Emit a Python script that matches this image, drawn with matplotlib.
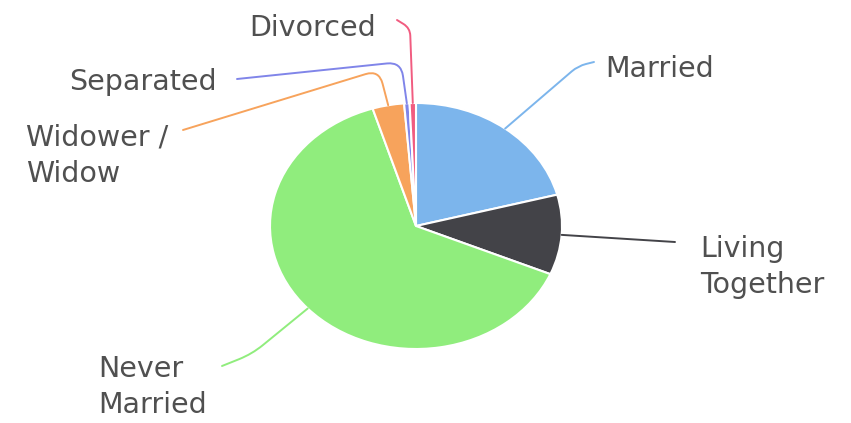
import textwrap
import numpy as np
import matplotlib
matplotlib.use("Agg")
import matplotlib.pyplot as plt
from matplotlib.path import Path
from matplotlib.patches import PathPatch

# data
categories = ["Married", "Living Together", "Never Married",
              "Widower / Widow", "Separated", "Divorced"]
values = [20.9, 10.5, 63.8, 3.5, 0.6, 0.7]
colors = ["#7cb5ec", "#434348", "#90ed7d", "#f7a35c", "#8085e9", "#f15c80"]

W, H = 851, 423
S = 1.187  # the reference is stretched horizontally

# label layout in reference pixels: x, y, ha, va
label_pos = {
    "Married": (605, 77, "left", "baseline"),
    "Living Together": (700, 267, "left", "center"),
    "Never Married": (207, 387, "right", "center"),
    "Widower / Widow": (168, 156, "right", "center"),
    "Separated": (217, 90, "right", "baseline"),
    "Divorced": (376, 36, "right", "baseline"),
}
# connector bend points (reference pixels), after the pie edge point
connector_pts = {
    "Married": [(578, 66), (594, 62)],
    "Living Together": [(675, 242)],
    "Never Married": [(252, 354), (222, 366)],
    "Widower / Widow": [(379, 70), (183, 130)],
    "Separated": [(401, 62), (237, 79)],
    "Divorced": [(410, 28), (397, 20)],
}


def to_data(x, y):
    return x / S, H - y


def to_px(x, y):
    return x * S, H - y


def rounded_path(pts, rad):
    pts = [np.array(p, float) for p in pts]
    verts = [pts[0]]
    codes = [Path.MOVETO]
    for i in range(1, len(pts) - 1):
        p0, p1, p2 = pts[i - 1], pts[i], pts[i + 1]
        n1 = np.linalg.norm(p1 - p0)
        n2 = np.linalg.norm(p2 - p1)
        r = min(rad, n1 / 2, n2 / 2)
        a = p1 - (p1 - p0) / n1 * r
        b = p1 + (p2 - p1) / n2 * r
        verts += [a, p1, b]
        codes += [Path.LINETO, Path.CURVE3, Path.CURVE3]
    verts.append(pts[-1])
    codes.append(Path.LINETO)
    verts = [to_data(*v) for v in verts]
    return Path(verts, codes)


fig = plt.figure(figsize=(W / 100, H / 100), dpi=100)
ax = fig.add_axes([0, 0, 1, 1])

cx, cy = to_data(416, 226)
radius = 123
wedges, _ = ax.pie(values, colors=colors, startangle=90, counterclock=False,
                   center=(cx, cy), radius=radius,
                   wedgeprops=dict(edgecolor="white", linewidth=1.5))
ax.set_aspect("auto")
ax.set_xlim(0, W / S)
ax.set_ylim(0, H)
ax.axis("off")

for name, w, col in zip(categories, wedges, colors):
    mid = np.radians((w.theta1 + w.theta2) / 2)
    start = to_px(cx + radius * np.cos(mid), cy + radius * np.sin(mid))
    path = rounded_path([start] + connector_pts[name], 14)
    ax.add_patch(PathPatch(path, fill=False, edgecolor=col, lw=1.4,
                           capstyle="round", joinstyle="round"))

    x, y, ha, va = label_pos[name]
    tx, ty = to_data(x, y)
    ax.text(tx, ty, textwrap.fill(name, 10), ha=ha, va=va, ma="left",
            fontsize=20.5, color="#505050", linespacing=1.4,
            family="DejaVu Sans")

fig.savefig("out.png", dpi=100)
